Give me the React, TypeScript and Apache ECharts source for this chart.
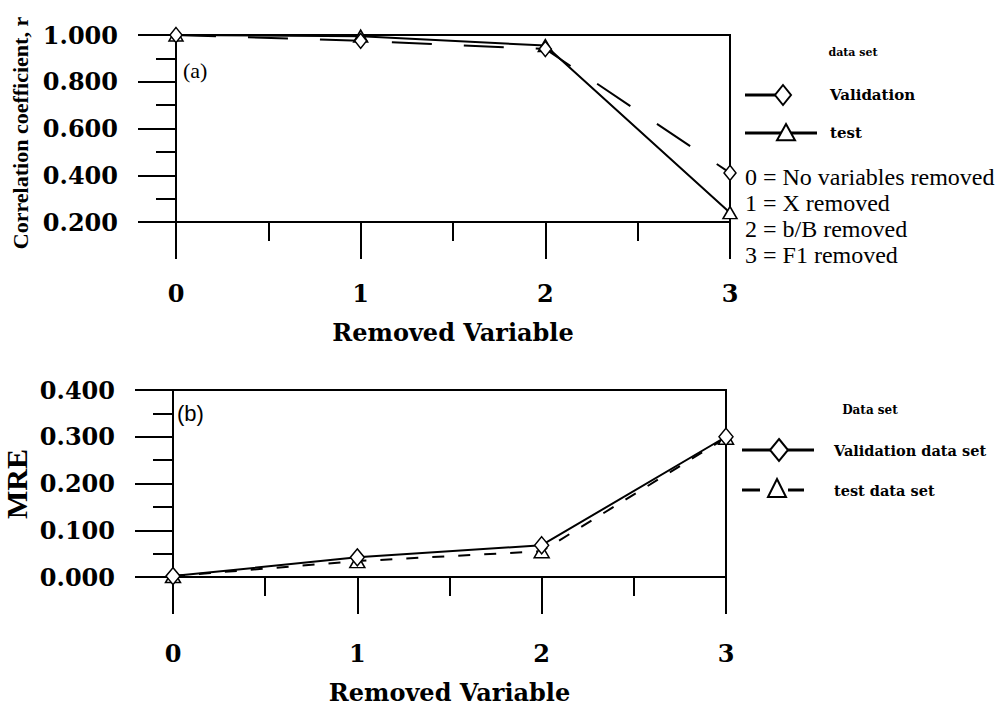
import React, { useEffect, useRef } from "react";
import * as echarts from "echarts";

// ---- data ----
const removedVariable = [0, 1, 2, 3];
const corrValidation = [1.0, 0.975, 0.94, 0.41];
const corrTest = [1.0, 0.995, 0.955, 0.24];
const mreValidation = [0.002, 0.042, 0.068, 0.3];
const mreTest = [0.002, 0.034, 0.055, 0.298];
const keyLines = [
  "0 = No variables removed",
  "1 = X removed",
  "2 = b/B removed",
  "3 = F1 removed",
];

const SERIF = "'Liberation Serif', 'Times New Roman', serif";
const WIDE = "'DejaVu Serif', 'Liberation Serif', serif";
const SANS = "'Liberation Sans', Arial, sans-serif";

const pairs = (xs: number[], ys: number[]) => xs.map((x, i) => [x, ys[i]]);

const diamond = (cx: number, cy: number, w: number, h: number) => ({
  type: "polygon",
  shape: { points: [[cx, cy - h], [cx + w, cy], [cx, cy + h], [cx - w, cy]] },
  style: { fill: "#fff", stroke: "#000", lineWidth: 2 },
  z: 10,
});
const triangle = (cx: number, cy: number, w: number, h: number) => ({
  type: "polygon",
  shape: { points: [[cx, cy - h], [cx + w, cy + h * 0.8], [cx - w, cy + h * 0.8]] },
  style: { fill: "#fff", stroke: "#000", lineWidth: 2 },
  z: 10,
});
const hline = (x1: number, x2: number, y: number, w = 3) => ({
  type: "line",
  shape: { x1, y1: y, x2, y2: y },
  style: { stroke: "#000", lineWidth: w },
});
const text = (t: string, x: number, y: number, font: string, align = "left", rotation = 0) => ({
  type: "text",
  x,
  y,
  rotation,
  style: { text: t, font, fill: "#000", textAlign: align, textVerticalAlign: "middle" },
});

export default function App() {
  const ref = useRef<HTMLDivElement>(null);
  useEffect(() => {
    const chart = echarts.init(ref.current!, null, { renderer: "svg" });
    const black = { color: "#000", width: 2 };
    const labelFont = { color: "#000", fontFamily: WIDE, fontWeight: "bold", fontSize: 24 };
    const xAxis = (gridIndex: number, margin: number, nameGap: number) => ({
      type: "value",
      gridIndex,
      min: 0,
      max: 3,
      interval: 1,
      axisLine: { show: true, onZero: false, lineStyle: black },
      axisTick: { show: true, inside: false, length: 37, lineStyle: black },
      minorTick: { show: true, splitNumber: 2, length: 19, lineStyle: black },
      splitLine: { show: false },
      minorSplitLine: { show: false },
      axisLabel: { margin, ...labelFont },
      name: "Removed Variable",
      nameLocation: "middle",
      nameGap,
      nameTextStyle: { ...labelFont },
    });
    const yAxis = (gridIndex: number, min: number, max: number, interval: number) => ({
      type: "value",
      gridIndex,
      min,
      max,
      interval,
      axisLine: { show: true, onZero: false, lineStyle: black },
      axisTick: { show: true, inside: false, length: 38, lineStyle: black },
      minorTick: { show: true, splitNumber: 2, length: 20, lineStyle: black },
      splitLine: { show: false },
      minorSplitLine: { show: false },
      axisLabel: {
        margin: 58,
        ...labelFont,
        formatter: (v: number) => v.toFixed(3),
      },
    });
    const series = (
      name: string,
      idx: number,
      ys: number[],
      symbol: string,
      size: number[],
      dash: any,
      z: number
    ) => ({
      name,
      type: "line",
      xAxisIndex: idx,
      yAxisIndex: idx,
      data: pairs(removedVariable, ys),
      symbol,
      symbolSize: size,
      showSymbol: true,
      clip: false,
      z,
      lineStyle: { color: "#000", width: 2, type: dash },
      itemStyle: { color: "#fff", borderColor: "#000", borderWidth: 1.5 },
    });

    chart.setOption({
      animation: false,
      backgroundColor: "#fff",
      grid: [
        { left: 176, top: 35, width: 554, height: 187, show: true, borderColor: "#000", borderWidth: 2, backgroundColor: "transparent" },
        { left: 173, top: 390, width: 553, height: 187, show: true, borderColor: "#000", borderWidth: 2, backgroundColor: "transparent" },
      ],
      xAxis: [xAxis(0, 59, 98), xAxis(1, 64, 103)],
      yAxis: [yAxis(0, 0.2, 1.0, 0.2), yAxis(1, 0, 0.4, 0.1)],
      series: [
        series("test", 0, corrTest, "triangle", [14, 12], "solid", 2),
        series("Validation", 0, corrValidation, "diamond", [12, 15], [40, 32], 3),
        series("test data set", 1, mreTest, "triangle", [15, 13], [12, 14], 2),
        series("Validation data set", 1, mreValidation, "diamond", [14, 17], "solid", 3),
      ],
      graphic: [
        text("Correlation coefficient, r", 20, 133, `bold 22px ${SERIF}`, "center", Math.PI / 2),
        text("MRE", 16, 484, `bold 30px ${SERIF}`, "center", Math.PI / 2),
        text("(a)", 183, 70, `22px ${SERIF}`),
        text("(b)", 177, 413, `22px ${SANS}`),
        // legend (a)
        text("data set", 853, 52, `bold 11px ${WIDE}`, "center"),
        hline(745, 776, 95),
        diamond(783, 95, 8, 10),
        text("Validation", 830, 95, `bold 15px ${WIDE}`),
        hline(745, 817, 133),
        triangle(786, 133, 9, 9),
        text("test", 830, 133, `bold 15px ${WIDE}`),
        ...keyLines.map((t, i) => text(t, 745, 177 + i * 26, `24px ${SERIF}`)),
        // legend (b)
        text("Data set", 870, 410, `bold 12px ${WIDE}`, "center"),
        hline(742, 814, 450),
        diamond(779, 450, 9, 11),
        text("Validation data set", 834, 450, `bold 14.5px ${WIDE}`),
        hline(742, 760, 490),
        hline(788, 804, 490),
        triangle(777, 489, 9, 10),
        text("test data set", 834, 490, `bold 14.5px ${WIDE}`),
      ],
    });
    return () => chart.dispose();
  }, []);
  return (
    <div
      ref={ref}
      style={{ position: "absolute", left: 0, top: 0, width: 1007, height: 709, background: "#fff" }}
    />
  );
}
